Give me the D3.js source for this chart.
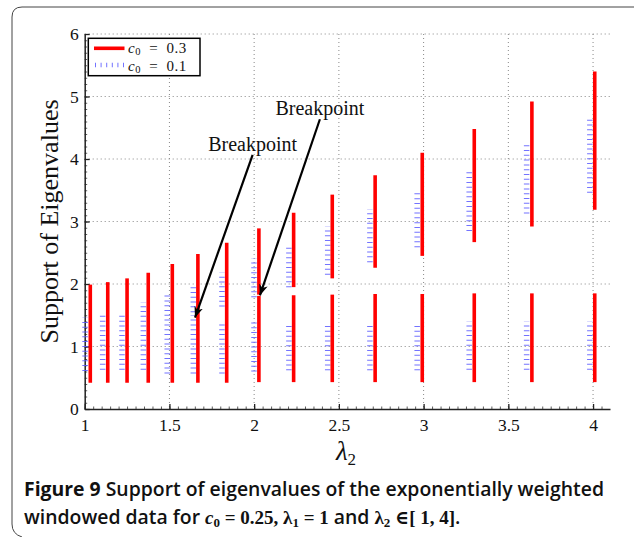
<!DOCTYPE html>
<html><head><meta charset="utf-8">
<script src="https://cdn.jsdelivr.net/npm/d3@7"></script>
<style>
html,body{margin:0;padding:0;background:#fff;}
svg{display:block;}
</style></head>
<body>
<svg id="chart" width="634" height="537"></svg>
<script>
// ---- data ----
const xTicks = [1, 1.5, 2, 2.5, 3, 3.5, 4];
const xTickLabels = ["1", "1.5", "2", "2.5", "3", "3.5", "4"];
const yTicks = [0, 1, 2, 3, 4, 5, 6];
const yTickLabels = ["0", "1", "2", "3", "4", "5", "6"];

// c0 = 0.3 (red, solid)
const lambdaRed   = [1.033, 1.136, 1.250, 1.375, 1.517, 1.668, 1.838, 2.028, 2.233, 2.461, 2.714, 2.992, 3.299, 3.639, 4.010];
const redLowMin   = [0.42, 0.42, 0.42, 0.42, 0.42, 0.42, 0.42, 0.43, 0.43, 0.43, 0.43, 0.43, 0.43, 0.43, 0.43];
const redLowMax   = [1.99, 2.03, 2.09, 2.18, 2.32, 2.48, 2.66, 1.81, 1.82, 1.83, 1.84, 1.84, 1.85, 1.85, 1.85];
const redHighMin  = [null, null, null, null, null, null, null, 1.83, 1.95, 2.09, 2.26, 2.45, 2.67, 2.92, 3.19];
const redHighMax  = [null, null, null, null, null, null, null, 2.89, 3.14, 3.43, 3.74, 4.10, 4.48, 4.92, 5.40];

// c0 = 0.1 (blue, dotted)
const lambdaBlue  = [1.002, 1.106, 1.220, 1.346, 1.487, 1.641, 1.810, 1.999, 2.205, 2.434, 2.683, 2.962, 3.269, 3.608, 3.981];
const blueLowMin  = [0.61, 0.63, 0.63, 0.63, 0.57, 0.57, 0.57, 0.60, 0.62, 0.62, 0.62, 0.62, 0.63, 0.63, 0.63];
const blueLowMax  = [1.46, 1.55, 1.55, 1.71, 1.82, 1.50, 1.41, 1.40, 1.39, 1.39, 1.39, 1.39, 1.40, 1.40, 1.40];
const blueHighMin = [null, null, null, null, null, 1.55, 1.64, 1.79, 1.95, 2.15, 2.35, 2.59, 2.85, 3.13, 3.46];
const blueHighMax = [null, null, null, null, null, 2.00, 2.18, 2.41, 2.64, 2.92, 3.20, 3.50, 3.84, 4.27, 4.67];

const legendLabels = ["0.3", "0.1"];
const annotations = [
  {text: "Breakpoint", tx: 1.991, ty: 4.067, hx: 1.651, hy: 1.462},
  {text: "Breakpoint", tx: 2.388, ty: 4.636, hx: 2.034, hy: 1.818}
];

// ---- layout ----
const svg = d3.select("#chart");
const serif = "'Liberation Serif','DejaVu Serif',serif";
const x = d3.scaleLinear().domain([1, 4.1]).range([84.7, 610]);
const y = d3.scaleLinear().domain([0, 6]).range([409, 34]);
const blueCol = "#5a5aff";

// figure frame
svg.append("path")
  .attr("d", "M640,7 H22 Q12,7 12,17 V524 Q12,534 22,537")
  .attr("fill", "none").attr("stroke", "#444").attr("stroke-width", 1);

// grid
const grid = svg.append("g");
grid.selectAll("line.gx").data(xTicks.slice(1)).enter().append("line")
  .attr("x1", d => x(d)).attr("x2", d => x(d)).attr("y1", y(6)).attr("y2", y(0))
  .attr("stroke", "#888").attr("stroke-width", 1).attr("stroke-dasharray", "1,3");
grid.selectAll("line.gy").data(yTicks.slice(1)).enter().append("line")
  .attr("y1", d => y(d)).attr("y2", d => y(d)).attr("x1", x(1)).attr("x2", x(4.1))
  .attr("stroke", "#888").attr("stroke-width", 1).attr("stroke-dasharray", "1,3");

// axes
const xAxis = d3.axisBottom(x).tickValues(xTicks).tickFormat((d, i) => xTickLabels[i]).tickSizeInner(-5).tickSizeOuter(0).tickPadding(10);
const yAxis = d3.axisLeft(y).tickValues(yTicks).tickFormat((d, i) => yTickLabels[i]).tickSizeInner(-5).tickSizeOuter(0).tickPadding(6);
const xMinor = d3.axisBottom(x).tickValues(d3.range(1, 4.1, 0.05)).tickSizeInner(-2.5).tickSizeOuter(0).tickFormat("");
const yMinor = d3.axisLeft(y).tickValues(d3.range(0, 6.01, 0.1)).tickSizeInner(-2.5).tickSizeOuter(0).tickFormat("");

const gxm = svg.append("g").attr("transform", `translate(0,${y(0)})`).call(xMinor);
const gym = svg.append("g").attr("transform", `translate(${x(1)},0)`).call(yMinor);
[gxm, gym].forEach(g => { g.select(".domain").remove(); g.selectAll("line").attr("stroke", "#333").attr("stroke-width", 0.8); });

const gx = svg.append("g").attr("transform", `translate(0,${y(0)})`).call(xAxis);
const gy = svg.append("g").attr("transform", `translate(${x(1)},0)`).call(yAxis);
[gx, gy].forEach(g => {
  g.select(".domain").attr("stroke", "#222").attr("stroke-width", 1.5);
  g.selectAll("line").attr("stroke", "#222").attr("stroke-width", 1.3);
  g.selectAll("text").attr("font-family", serif).attr("font-size", 17.5).attr("fill", "#111");
});

// series
function segments(lx, lo1, hi1, lo2, hi2) {
  const out = [];
  lx.forEach((v, i) => {
    out.push({x: v, a: lo1[i], b: hi1[i]});
    if (lo2[i] != null) out.push({x: v, a: lo2[i], b: hi2[i]});
  });
  return out;
}
const blueSegs = segments(lambdaBlue, blueLowMin, blueLowMax, blueHighMin, blueHighMax);
const redSegs = segments(lambdaRed, redLowMin, redLowMax, redHighMin, redHighMax);

svg.append("g").selectAll("line").data(blueSegs).enter().append("line")
  .attr("x1", d => x(d.x)).attr("x2", d => x(d.x))
  .attr("y1", d => y(d.a)).attr("y2", d => y(d.b))
  .attr("stroke", blueCol).attr("stroke-opacity", 0.85).attr("stroke-width", 5.5).attr("stroke-dasharray", "1,3.8");

svg.append("g").selectAll("line").data(redSegs).enter().append("line")
  .attr("x1", d => x(d.x)).attr("x2", d => x(d.x))
  .attr("y1", d => y(d.a)).attr("y2", d => y(d.b))
  .attr("stroke", "#ff0000").attr("stroke-width", 3.6);

// annotations
const defs = svg.append("defs");
defs.append("marker").attr("id", "ah").attr("viewBox", "0 0 10 10").attr("refX", 10).attr("refY", 5)
  .attr("markerWidth", 5).attr("markerHeight", 5).attr("markerUnits", "strokeWidth").attr("orient", "auto")
  .append("path").attr("d", "M0,1 L10,5 L0,9 L3,5 Z").attr("fill", "#000");
const ann = svg.append("g");
ann.selectAll("line").data(annotations).enter().append("line")
  .attr("x1", d => x(d.tx)).attr("y1", d => y(d.ty))
  .attr("x2", d => x(d.hx)).attr("y2", d => y(d.hy))
  .attr("stroke", "#000").attr("stroke-width", 2.2).attr("marker-end", "url(#ah)");
ann.selectAll("text").data(annotations).enter().append("text")
  .attr("x", d => x(d.tx)).attr("y", d => y(d.ty) - 4)
  .attr("text-anchor", "middle").attr("font-family", serif).attr("font-size", 20)
  .attr("fill", "#111").text(d => d.text);

// legend
const lg = svg.append("g");
lg.append("rect").attr("x", 88.3).attr("y", 38.3).attr("width", 111.7).attr("height", 37.4)
  .attr("fill", "#fff").attr("stroke", "#000").attr("stroke-width", 1.5);
lg.append("line").attr("x1", 94).attr("x2", 124.5).attr("y1", 48.3).attr("y2", 48.3)
  .attr("stroke", "#ff0000").attr("stroke-width", 3.6);
lg.append("line").attr("x1", 95).attr("x2", 124.5).attr("y1", 65).attr("y2", 65)
  .attr("stroke", blueCol).attr("stroke-opacity", 0.85).attr("stroke-width", 4.5).attr("stroke-dasharray", "1,4.6");
legendLabels.forEach((lab, i) => {
  const t = lg.append("text").attr("x", 128).attr("y", 52.5 + i * 18)
    .attr("font-family", serif).attr("font-size", 15).attr("letter-spacing", 0.6).attr("fill", "#111");
  t.append("tspan").attr("font-style", "italic").text("c");
  t.append("tspan").attr("font-size", 10.5).attr("dy", 2).text("0");
  t.append("tspan").attr("dy", -2).text("\u2002=\u2002" + lab);
});

// axis labels
svg.append("text").attr("transform", `translate(58,${(y(0) + y(6)) / 2}) rotate(-90)`)
  .attr("text-anchor", "middle").attr("font-family", serif).attr("font-size", 26).attr("fill", "#111")
  .text("Support of Eigenvalues");
const xl = svg.append("text").attr("x", 346).attr("y", 460).attr("text-anchor", "middle")
  .attr("font-family", serif).attr("font-size", 27).attr("fill", "#111");
xl.append("tspan").attr("font-style", "italic").text("λ");
xl.append("tspan").attr("font-size", 17).attr("dy", 5).text("2");

// caption
const sans = "'Open Sans','Noto Sans',sans-serif";
const c1 = svg.append("text").attr("x", 24).attr("y", 496).attr("font-family", sans)
  .attr("font-size", 19.4).attr("fill", "#111");
c1.append("tspan").attr("font-weight", 700).text("Figure 9");
c1.append("tspan").attr("font-weight", 600).text(" Support of eigenvalues of the exponentially weighted");
const c2 = svg.append("text").attr("x", 24).attr("y", 524).attr("font-family", sans)
  .attr("font-size", 19.4).attr("font-weight", 600).attr("fill", "#111");
c2.append("tspan").text("windowed data for ");
c2.append("tspan").attr("font-family", serif).attr("font-style", "italic").attr("font-weight", 700).attr("font-size", 19).text("c");
c2.append("tspan").attr("font-family", serif).attr("font-weight", 700).attr("font-size", 13).attr("dy", 3).text("0");
c2.append("tspan").attr("font-family", serif).attr("font-weight", 700).attr("font-size", 19).attr("dy", -3).text(" = 0.25, ");
c2.append("tspan").attr("font-family", serif).attr("font-weight", 700).attr("font-size", 19).text("λ");
c2.append("tspan").attr("font-family", serif).attr("font-weight", 700).attr("font-size", 13).attr("dy", 3).text("1");
c2.append("tspan").attr("font-family", serif).attr("font-weight", 700).attr("font-size", 19).attr("dy", -3).text(" = 1");
c2.append("tspan").text(" and ");
c2.append("tspan").attr("font-family", serif).attr("font-weight", 700).attr("font-size", 19).text("λ");
c2.append("tspan").attr("font-family", serif).attr("font-weight", 700).attr("font-size", 13).attr("dy", 3).text("2");
c2.append("tspan").attr("font-family", serif).attr("font-weight", 700).attr("font-size", 19).attr("dy", -3).text(" ∈[ 1, 4]");
c2.append("tspan").text(".");
</script>
</body></html>
